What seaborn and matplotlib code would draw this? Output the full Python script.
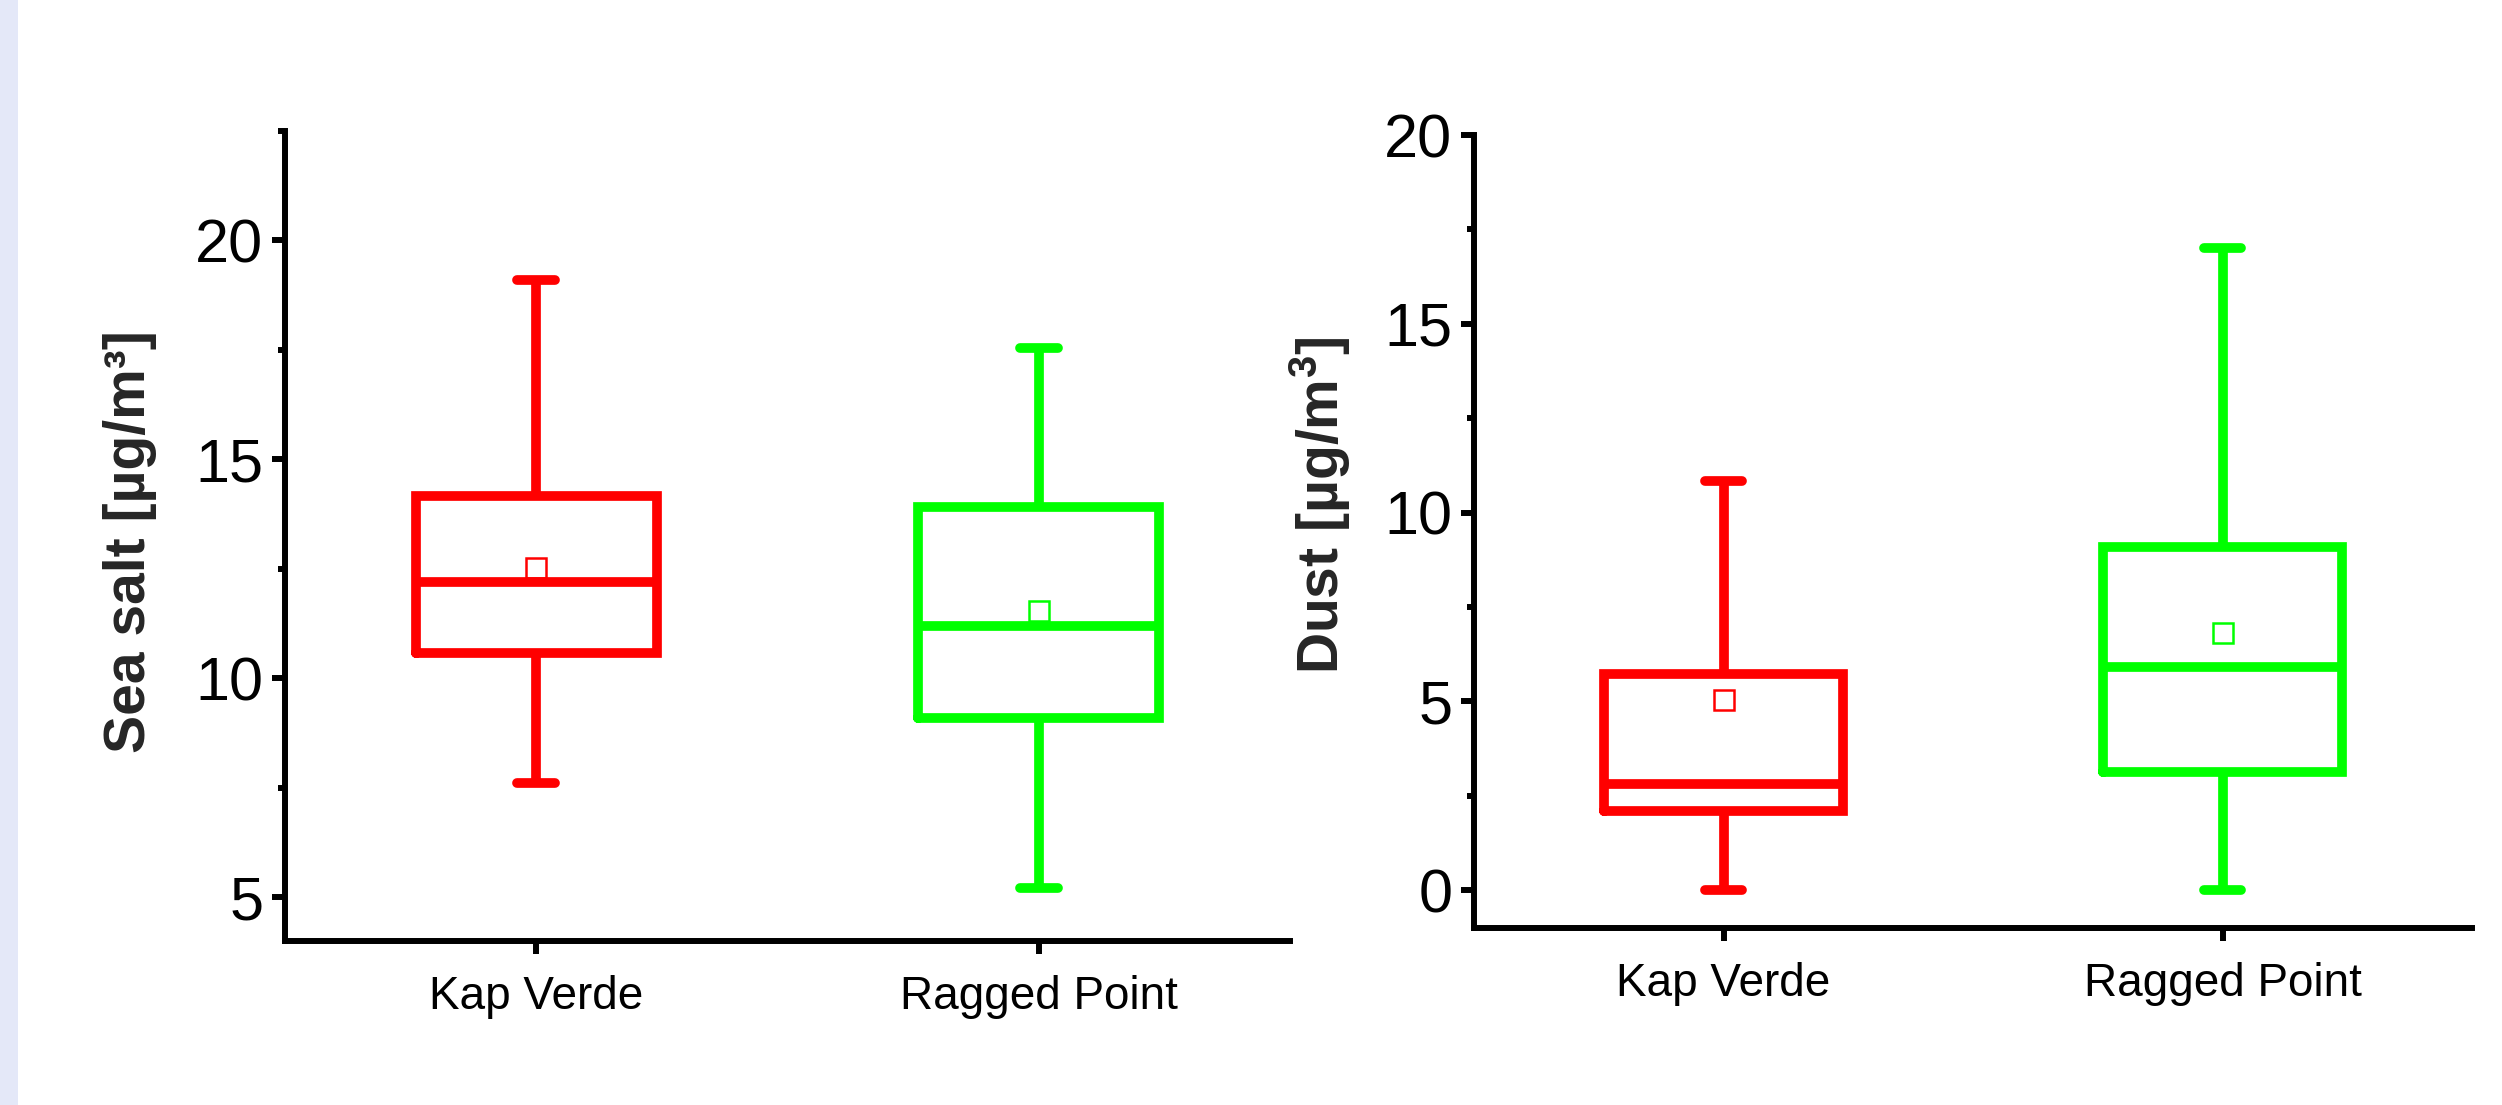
import numpy as np
import pandas as pd
import matplotlib
matplotlib.use("Agg")
import matplotlib.pyplot as plt
from matplotlib.ticker import MultipleLocator
from matplotlib.patches import Rectangle
import seaborn as sns

# ---------------- data ----------------
sites = ["Kap Verde", "Ragged Point"]
site_colors = ["#FF0000", "#00FF00"]

seasalt_min = [7.6, 5.2]
seasalt_q1 = [10.57, 9.1]
seasalt_median = [12.2, 11.2]
seasalt_q3 = [14.17, 13.92]
seasalt_max = [19.1, 17.55]
seasalt_mean = [12.53, 11.54]

dust_min = [0.0, 0.0]
dust_q1 = [2.1, 3.13]
dust_median = [2.82, 5.92]
dust_q3 = [5.73, 9.08]
dust_max = [10.85, 17.0]
dust_mean = [5.04, 6.8]

seasalt_label = "Sea salt [µg/m³]"
dust_label = "Dust [µg/m$^{3}$]"


def five_number_frame(mins, q1s, meds, q3s, maxs):
    rows = []
    for s, a, b, c, d, e in zip(sites, mins, q1s, meds, q3s, maxs):
        for v in (a, b, c, d, e):
            rows.append({"site": s, "value": v})
    return pd.DataFrame(rows)


seasalt_df = five_number_frame(seasalt_min, seasalt_q1, seasalt_median, seasalt_q3, seasalt_max)
dust_df = five_number_frame(dust_min, dust_q1, dust_median, dust_q3, dust_max)
seasalt_mean_df = pd.DataFrame({"site": sites, "value": seasalt_mean})
dust_mean_df = pd.DataFrame({"site": sites, "value": dust_mean})

# ---------------- style ----------------
sns.set_style("ticks")
plt.rcParams["font.family"] = ["Liberation Sans", "DejaVu Sans"]
plt.rcParams["mathtext.default"] = "regular"
plt.rcParams["axes.linewidth"] = 4.3

W, H = 2502, 1105
fig = plt.figure(figsize=(W / 100, H / 100), dpi=100)
fig.patch.set_facecolor("white")
fig.patches.append(Rectangle((0, 0), 18 / W, 1, transform=fig.transFigure,
                             facecolor="#E4E8F8", edgecolor="none", zorder=-10))

ax1 = fig.add_axes([285 / W, 1 - 941 / H, (1290 - 285) / W, (941 - 131) / H])
ax2 = fig.add_axes([1474 / W, 1 - 928 / H, (2472 - 1474) / W, (928 - 135) / H])

palette = dict(zip(sites, site_colors))
LW = 7


def draw(ax, df, mean_df, ylim, ylabel, label_xy):
    sns.boxplot(data=df, x="site", y="value", hue="site", palette=palette,
                order=sites, hue_order=sites, fill=False, width=0.48,
                whis=(0, 100), linewidth=LW, legend=False, ax=ax,
                capwidths=0.075,
                capprops=dict(solid_capstyle="round"),
                boxprops=dict(solid_joinstyle="miter"),
                medianprops=dict(solid_capstyle="butt"))
    sns.pointplot(data=mean_df, x="site", y="value", hue="site", palette=palette,
                  order=sites, hue_order=sites, errorbar=None, marker="s",
                  linestyle="none", markersize=15, markeredgewidth=1.8,
                  markerfacecolor="none", legend=False, ax=ax)
    ax.set_xlim(-0.5, 1.5)
    ax.set_ylim(*ylim)
    ax.yaxis.set_major_locator(MultipleLocator(5))
    ax.yaxis.set_minor_locator(MultipleLocator(2.5))
    ax.tick_params(axis="both", which="major", direction="out", length=9.5,
                   width=4.3, color="black")
    ax.tick_params(axis="y", which="minor", direction="out", length=5,
                   width=4.3, color="black")
    ax.tick_params(axis="y", which="major", labelsize=44, pad=6)
    ax.tick_params(axis="x", which="major", labelsize=33, pad=15)
    ax.set_xlabel("")
    ax.set_ylabel(ylabel, fontsize=41, fontweight="bold")
    ax.yaxis.set_label_coords(*label_xy)
    for s in ("top", "right"):
        ax.spines[s].set_visible(False)
    for s in ("left", "bottom"):
        ax.spines[s].set_linewidth(4.3)
        ax.spines[s].set_color("black")
    for lab in ax.get_xticklabels() + ax.get_yticklabels():
        lab.set_color("black")


draw(ax1, seasalt_df, seasalt_mean_df, (4.0, 22.5), seasalt_label, (-0.127, 0.493))
draw(ax2, dust_df, dust_mean_df, (-1.0, 20.0), dust_label, (-0.121, 0.533))

fig.savefig("out.png", dpi=100)
